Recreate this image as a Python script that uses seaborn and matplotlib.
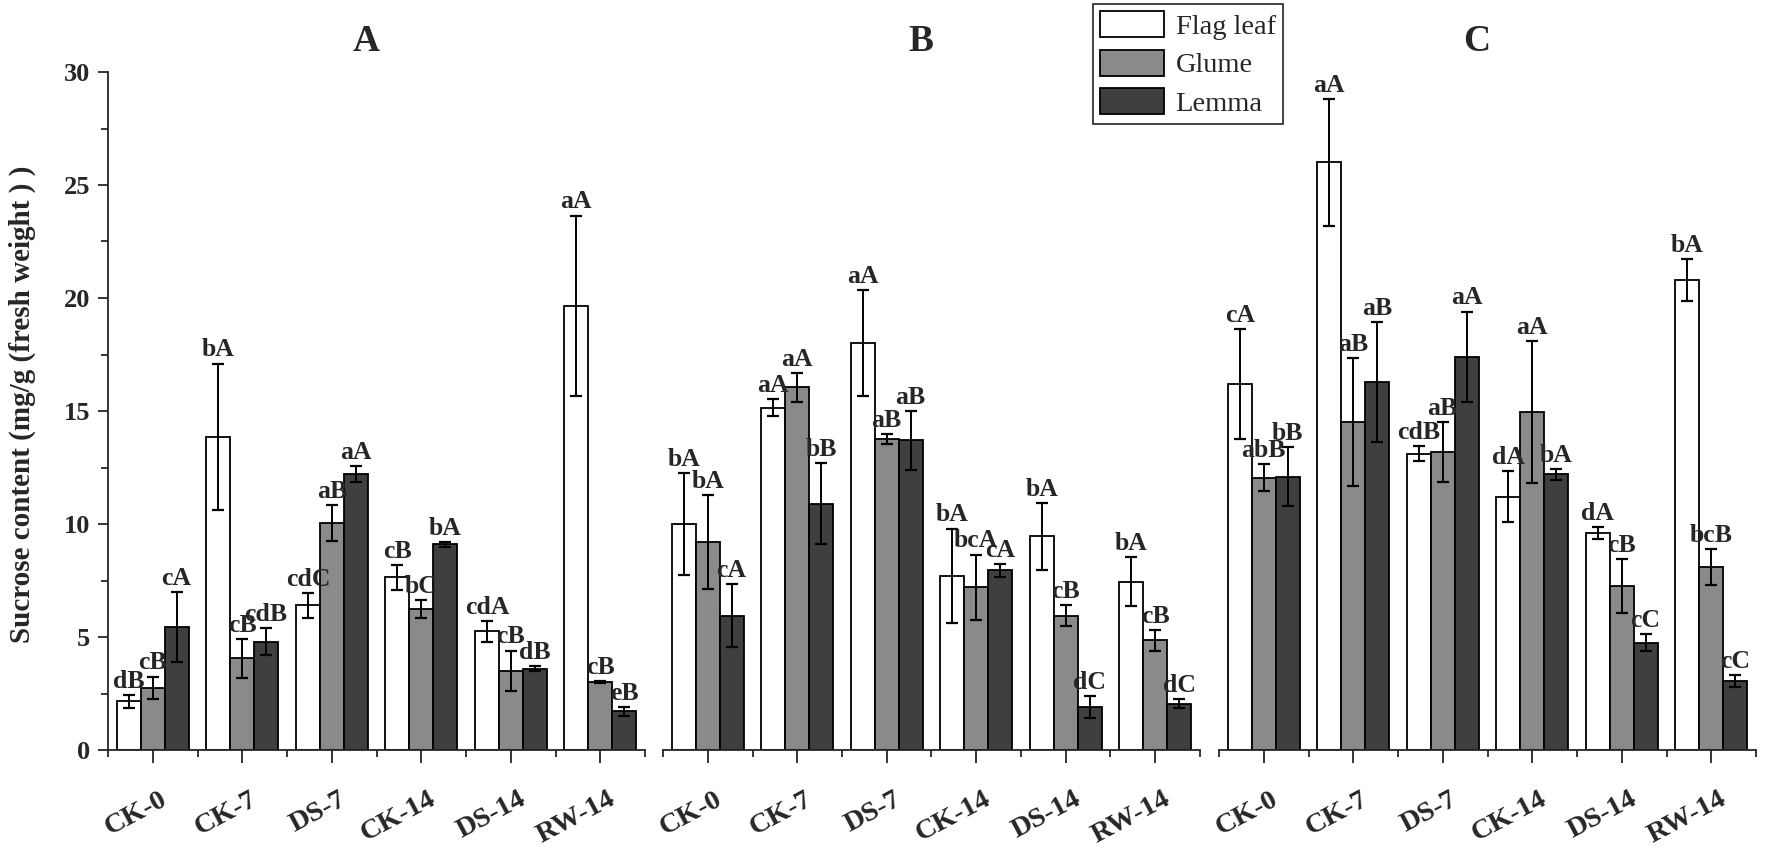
import numpy as np
import pandas as pd
import seaborn as sns
import matplotlib.pyplot as plt
import matplotlib.transforms as mtransforms
from matplotlib.ticker import MultipleLocator

stages = ["CK-0", "CK-7", "DS-7", "CK-14", "DS-14", "RW-14"]
tissues = ["Flag leaf", "Glume", "Lemma"]
panels = ["A", "B", "C"]

# means per panel, one list per tissue (Flag leaf, Glume, Lemma)
mean_a = [[2.15, 13.85, 6.4, 7.65, 5.25, 19.65],
          [2.75, 4.05, 10.05, 6.25, 3.5, 3.02],
          [5.45, 4.8, 12.2, 9.1, 3.6, 1.72]]
sd_a = [[0.28, 3.25, 0.55, 0.55, 0.45, 4.0],
        [0.5, 0.85, 0.8, 0.4, 0.9, 0.05],
        [1.55, 0.58, 0.35, 0.1, 0.1, 0.2]]
mean_b = [[10.0, 15.15, 18.0, 7.7, 9.45, 7.45],
          [9.2, 16.05, 13.75, 7.2, 5.95, 4.85],
          [5.95, 10.9, 13.7, 7.95, 1.9, 2.05]]
sd_b = [[2.25, 0.37, 2.35, 2.1, 1.48, 1.08],
        [2.07, 0.63, 0.22, 1.45, 0.47, 0.45],
        [1.38, 1.8, 1.3, 0.28, 0.47, 0.2]]
mean_c = [[16.2, 26.0, 13.1, 11.2, 9.6, 20.8],
          [12.05, 14.5, 13.2, 14.95, 7.25, 8.1],
          [12.1, 16.3, 17.4, 12.2, 4.75, 3.05]]
sd_c = [[2.43, 2.8, 0.33, 1.13, 0.27, 0.93],
        [0.6, 2.83, 1.33, 3.15, 1.2, 0.81],
        [1.3, 2.65, 2.0, 0.25, 0.37, 0.27]]

letters_a = [["dB", "bA", "cdC", "cB", "cdA", "aA"],
             ["cB", "cB", "aB", "bC", "cB", "cB"],
             ["cA", "cdB", "aA", "bA", "dB", "eB"]]
letters_b = [["bA", "aA", "aA", "bA", "bA", "bA"],
             ["bA", "aA", "aB", "bcA", "cB", "cB"],
             ["cA", "bB", "aB", "cA", "dC", "dC"]]
letters_c = [["cA", "aA", "cdB", "dA", "dA", "bA"],
             ["abB", "aB", "aB", "aA", "cB", "bcB"],
             ["bB", "aB", "aA", "bA", "cC", "cC"]]

colors = {"Flag leaf": "#ffffff", "Glume": "#8a8a8a", "Lemma": "#3f3f3f"}

sns.set_style("ticks")
plt.rcParams["font.family"] = ["Liberation Serif", "DejaVu Serif"]
plt.rcParams["font.weight"] = "bold"

fig = plt.figure(figsize=(17.72, 8.59), dpi=100)
lefts = [108 / 1772, 663 / 1772, 1219 / 1772]
bottom, height, width = 1 - 750 / 859, 678 / 859, 537 / 1772
shift = mtransforms.ScaledTranslation(7 / 100, 0, fig.dpi_scale_trans)

data = [(mean_a, sd_a, letters_a), (mean_b, sd_b, letters_b), (mean_c, sd_c, letters_c)]
axes = []
bar_sets = []
for k, (means, sds, letters) in enumerate(data):
    ax = fig.add_axes([lefts[k], bottom, width, height])
    axes.append(ax)
    rows = []
    for t, tissue in enumerate(tissues):
        for s, stage in enumerate(stages):
            rows.append({"stage": stage, "tissue": tissue, "value": means[t][s]})
    df = pd.DataFrame(rows)
    sns.barplot(data=df, x="stage", y="value", hue="tissue", order=stages,
                hue_order=tissues, palette=colors, edgecolor="black",
                linewidth=1.3, errorbar=None, legend=False, ax=ax, width=0.8)

    bars = list(ax.containers)
    bar_sets.append(bars)
    for t, cont in enumerate(bars):
        for s, bar in enumerate(cont.patches):
            xc = bar.get_x() + bar.get_width() / 2
            m, e = means[t][s], sds[t][s]
            ax.errorbar(xc, m, yerr=e, fmt="none", ecolor="black",
                        elinewidth=1.4, capsize=4.5, capthick=1.6, zorder=3)
            ax.annotate(letters[t][s], xy=(xc, m + e), xytext=(0, 1.5),
                        textcoords="offset points", ha="center", va="bottom",
                        fontsize=18.5, fontweight="bold", zorder=4)

    ax.set_xlim(-0.5, 5.5)
    ax.set_ylim(0, 30)
    ax.set_xlabel("")
    ax.set_ylabel("")
    ax.xaxis.set_minor_locator(MultipleLocator(1, offset=0.5))
    ax.tick_params(axis="x", which="major", length=9.5, width=1.3, direction="out",
                   labelsize=20.5, pad=17)
    ax.tick_params(axis="x", which="minor", length=5, width=1.3, direction="out")
    for lab in ax.get_xticklabels():
        lab.set_rotation(28)
        lab.set_ha("right")
        lab.set_va("top")
        lab.set_rotation_mode("anchor")
        lab.set_fontweight("bold")
        lab.set_transform(lab.get_transform() + shift)
    for side in ["top", "right"]:
        ax.spines[side].set_visible(False)
    ax.spines["bottom"].set_linewidth(1.3)
    ax.set_title(panels[k], fontsize=27, fontweight="bold", x=0.48, pad=15)
    ax.patch.set_alpha(0)

    if k == 0:
        ax.spines["left"].set_linewidth(1.3)
        ax.yaxis.set_major_locator(MultipleLocator(5))
        ax.yaxis.set_minor_locator(MultipleLocator(2.5))
        ax.tick_params(axis="y", which="major", length=7, width=1.3, labelsize=19,
                       pad=6)
        ax.tick_params(axis="y", which="minor", length=5, width=1.3)
        for lab in ax.get_yticklabels():
            lab.set_fontweight("bold")
        ax.set_ylabel("Sucrose content (mg/g (fresh weight ) )", fontsize=21,
                      fontweight="bold")
        ax.yaxis.set_label_coords(-0.135, 0.51)
    else:
        ax.spines["left"].set_visible(False)
        ax.set_yticks([])

handles = [cont.patches[0] for cont in bar_sets[2]]
leg = fig.legend(handles, tissues, loc="upper left",
                 bbox_to_anchor=(1093 / 1772, 1 - 4 / 859), frameon=True,
                 fancybox=False, edgecolor="black", handlelength=2.25,
                 handleheight=1.04, labelspacing=0.34, handletextpad=0.4,
                 borderpad=0.25, borderaxespad=0,
                 prop={"family": "Liberation Serif", "weight": "normal", "size": 20.5})
leg.get_frame().set_linewidth(1.3)

fig.savefig("out.png", dpi=100)
